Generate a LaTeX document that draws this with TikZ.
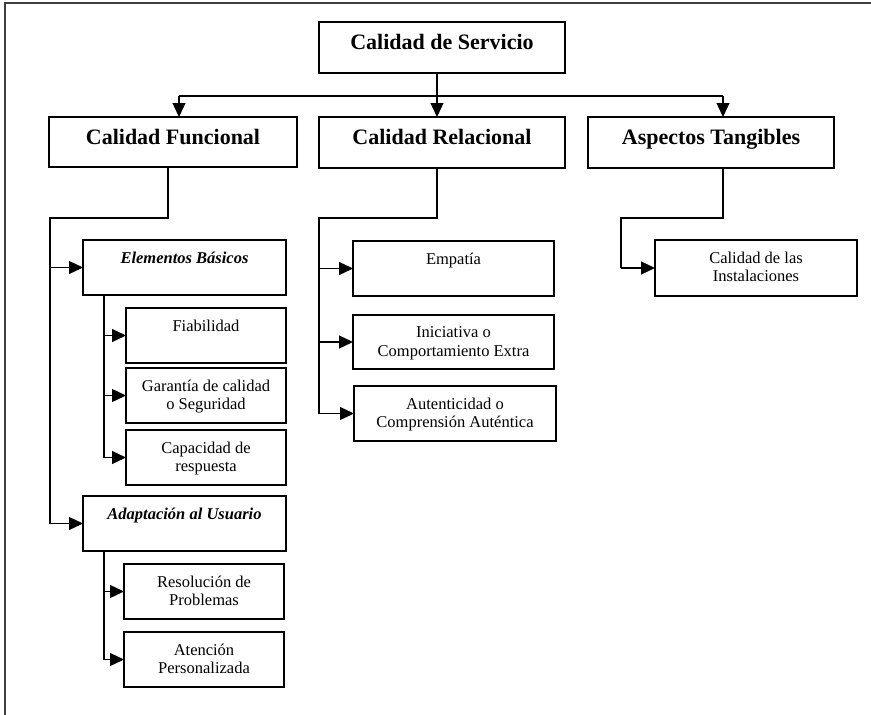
\documentclass[tikz,border=0pt]{standalone}
\usepackage{fontspec}
\setmainfont{Liberation Serif}
\usetikzlibrary{arrows.meta}
\tikzset{
  box/.style={draw=black, line width=1.4pt, anchor=north west, inner sep=0pt, outer sep=0pt},
  ltext/.style={anchor=north, inner sep=0pt, align=center, yshift=-11.6pt, font=\fontsize{16.5}{18.5}\selectfont},
  htext/.style={anchor=north, inner sep=0pt, align=center, yshift=-12.5pt, font=\fontsize{22}{24}\selectfont\bfseries},
  itext/.style={ltext, font=\fontsize{16.5}{18.5}\selectfont\bfseries\itshape},
  conn/.style={line width=1.3pt},
  arr/.style={conn, -{Triangle[length=14pt,width=13pt]}},
  frame/.style={line width=1.3pt, black!75},
}
\begin{document}
\begin{tikzpicture}[x=1pt,y=-1pt]
\useasboundingbox (0,0) rectangle (871,715);
\draw[frame] (5,715) -- (5,3) -- (871,3);

% top level
\node[box, minimum width=246pt, minimum height=51pt, label={[htext]north:Calidad de Servicio}] (serv) at (319,22) {};
\node[box, minimum width=248pt, minimum height=50pt, label={[htext]north:Calidad Funcional}] (func) at (49,117) {};
\node[box, minimum width=246pt, minimum height=51pt, label={[htext]north:Calidad Relacional}] (rela) at (319,117) {};
\node[box, minimum width=246pt, minimum height=51pt, label={[htext]north:Aspectos Tangibles}] (tang) at (588,117) {};

% funcional branch
\node[box, minimum width=203pt, minimum height=55pt, label={[itext]north:Elementos Básicos}] (elem) at (83,240) {};
\node[box, minimum width=160pt, minimum height=55pt, label={[ltext]north:Fiabilidad}] (fia) at (126,308) {};
\node[box, minimum width=160pt, minimum height=55pt, label={[ltext]north:{Garantía de calidad\\o Seguridad}}] (gar) at (126,368) {};
\node[box, minimum width=160pt, minimum height=55pt, label={[ltext]north:{Capacidad de\\respuesta}}] (cap) at (126,430) {};
\node[box, minimum width=203pt, minimum height=55pt, label={[itext]north:Adaptación al Usuario}] (adap) at (83,496) {};
\node[box, minimum width=160pt, minimum height=55pt, label={[ltext]north:{Resolución de\\Problemas}}] (reso) at (124,564) {};
\node[box, minimum width=160pt, minimum height=55pt, label={[ltext]north:{Atención\\Personalizada}}] (aten) at (124,632) {};

% relacional branch
\node[box, minimum width=201pt, minimum height=55pt, label={[ltext]north:Empatía}] (emp) at (353,241) {};
\node[box, minimum width=201pt, minimum height=54pt, label={[ltext]north:{Iniciativa o\\Comportamiento Extra}}] (ini) at (353,315) {};
\node[box, minimum width=202pt, minimum height=55pt, label={[ltext]north:{Autenticidad o\\Comprensión Auténtica}}] (aut) at (354,386) {};

% tangibles branch
\node[box, minimum width=202pt, minimum height=56pt, label={[ltext]north:{Calidad de las\\Instalaciones}}] (inst) at (655,240) {};

% top connectors
\coordinate (hub) at (437,96);
\coordinate (hl) at (179,96);
\coordinate (hr) at (723,96);
\draw[conn] (hub |- serv.south) -- (hub);
\draw[conn] (hl) -- (hr);
\draw[arr] (hl) -- (hl |- func.north);
\draw[arr] (hub) -- (hub |- rela.north);
\draw[arr] (hr) -- (hr |- tang.north);

% funcional connectors
\coordinate (fd) at (168,218);
\coordinate (fl) at (50,218);
\draw[conn] (fd |- func.south) -- (fd) -- (fl) -- (fl |- adap.west);
\draw[arr] (fl |- elem.west) -- (elem.west);
\draw[arr] (fl |- adap.west) -- (adap.west);
\coordinate (ev) at (104,295);
\draw[conn] (ev) -- (ev |- cap.west);
\draw[arr] (ev |- fia.west) -- (fia.west);
\draw[arr] (ev |- gar.west) -- (gar.west);
\draw[arr] (ev |- cap.west) -- (cap.west);
\coordinate (av) at (104,551);
\draw[conn] (av) -- (av |- aten.west);
\draw[arr] (av |- reso.west) -- (reso.west);
\draw[arr] (av |- aten.west) -- (aten.west);

% relacional connectors
\coordinate (rd) at (437,218);
\coordinate (rl) at (319,218);
\draw[conn] (rd |- rela.south) -- (rd) -- (rl) -- (rl |- aut.west);
\draw[arr] (rl |- emp.west) -- (emp.west);
\draw[arr] (rl |- ini.west) -- (ini.west);
\draw[arr] (rl |- aut.west) -- (aut.west);

% tangibles connectors
\coordinate (td) at (723,218);
\coordinate (tl) at (621,218);
\draw[conn] (td |- tang.south) -- (td) -- (tl) -- (tl |- inst.west);
\draw[arr] (tl |- inst.west) -- (inst.west);
\end{tikzpicture}
\end{document}
